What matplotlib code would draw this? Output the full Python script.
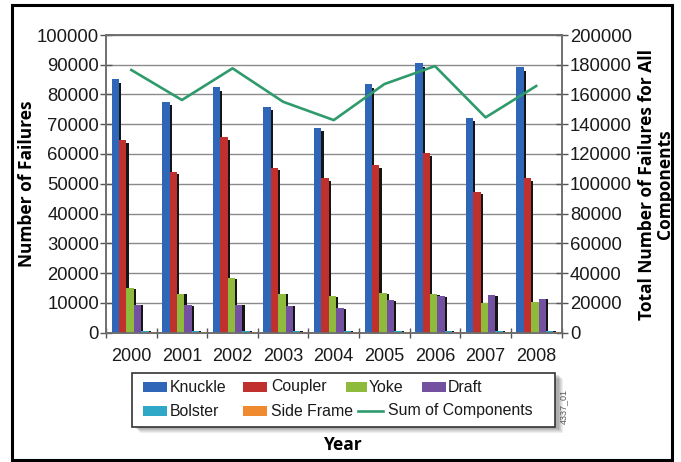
import matplotlib
matplotlib.use("Agg")
import matplotlib.pyplot as plt
from matplotlib.patches import Rectangle
from matplotlib.lines import Line2D
import numpy as np

# ---- data ----
years = ["2000", "2001", "2002", "2003", "2004", "2005", "2006", "2007", "2008"]
knuckle = [85100, 77600, 82400, 75900, 68600, 83400, 90500, 72200, 89300]
coupler = [64700, 54000, 65600, 55400, 51800, 56300, 60200, 47300, 51800]
yoke = [14800, 13100, 18200, 13100, 12200, 13300, 12900, 10000, 10300]
draft = [9400, 9200, 9400, 8900, 8100, 10900, 12200, 12500, 11400]
bolster = [600, 500, 600, 500, 400, 500, 500, 500, 500]
side_frame = [200, 200, 200, 200, 200, 300, 200, 200, 200]
sum_components = [176500, 156300, 177600, 155100, 142800, 167000, 179100, 144600, 165700]

series_names = ["Knuckle", "Coupler", "Yoke", "Draft", "Bolster", "Side Frame"]
series_values = [knuckle, coupler, yoke, draft, bolster, side_frame]
series_colors = ["#2f66b8", "#c0302c", "#8fbb3c", "#7450a0", "#2fa7c6", "#f08a2e"]
line_color = "#2f9a6c"

W, H = 681, 462
fig = plt.figure(figsize=(W / 100, H / 100), dpi=100)


def fx(x):
    return x / W


def fy(y):
    return 1 - y / H


TICK_FONT = "Liberation Sans"
TITLE_FONT = "Open Sans"

# plot area
ax = fig.add_axes([fx(106), fy(332.5), fx(561.5) - fx(106), fy(35) - fy(332.5)])
ax2 = ax.twinx()

n = len(years)
x = np.arange(n)
step = 0.146
start = -0.5 + 0.11

# bars with a dark drop shadow on their right side
for j, (vals, col) in enumerate(zip(series_values, series_colors)):
    left = x + start + j * step
    vals = np.asarray(vals, dtype=float)
    ax.bar(left + 0.3 * step, vals * 0.985, width=step, align="edge",
           color="#151515", linewidth=0, zorder=2)
    ax.bar(left, vals, width=step, align="edge", color=col,
           linewidth=0, zorder=3)

ax.set_xlim(-0.5, n - 0.5)
ax.set_ylim(0, 100000)
ax.set_yticks(np.arange(0, 100001, 10000))
ax.yaxis.grid(True, color="#8a8a8a", linewidth=1.0)
ax.set_axisbelow(True)

# x axis: labels at category centers, tick marks between categories
ax.set_xticks(x)
ax.set_xticklabels(years)
ax.set_xticks(np.arange(-0.5, n, 1.0), minor=True)
ax.tick_params(axis="x", which="major", length=0, pad=11)
ax.tick_params(axis="x", which="minor", length=7, direction="inout",
               color="#555555", width=1)
ax.tick_params(axis="y", length=8, direction="inout", color="#555555",
               width=1, pad=1)

ax2.plot(x, sum_components, color=line_color, linewidth=1.9, zorder=5)
ax2.set_ylim(0, 200000)
ax2.set_yticks(np.arange(0, 200001, 20000))
ax2.tick_params(axis="y", length=8, direction="inout", color="#555555",
                width=1, pad=2)

for a in (ax, ax2):
    for s in a.spines.values():
        s.set_color("#6e6e6e")
        s.set_linewidth(1.2)
    for lab in a.get_yticklabels():
        lab.set_fontfamily(TICK_FONT)
        lab.set_fontsize(13.3)
        lab.set_color("#1a1a1a")
for lab in ax.get_xticklabels():
    lab.set_fontfamily(TICK_FONT)
    lab.set_fontsize(13)
    lab.set_color("#1a1a1a")

# axis titles
fig.text(fx(27), fy(184), "Number of Failures", rotation=90, ha="center",
         va="center", fontsize=12.5, fontweight="bold", family=TITLE_FONT)
fig.text(fx(656), fy(184), "Total Number of Failures for All\nComponents",
         rotation=90, ha="center", va="center", fontsize=12.5,
         fontweight="bold", family=TITLE_FONT, linespacing=1.0,
         multialignment="center")
fig.text(fx(343), fy(445), "Year", ha="center", va="center", fontsize=12.5,
         fontweight="bold", family=TITLE_FONT)

# legend box with a soft shadow
lx0, ly0, lx1, ly1 = 131.5, 373, 555, 427
for k, a in enumerate([0.10, 0.10, 0.12, 0.14, 0.16]):
    off = 6 - k
    fig.add_artist(Rectangle((fx(lx0 + off + 2), fy(ly1 + off)),
                             fx(lx1 - lx0), fy(0) - fy(ly1 - ly0),
                             transform=fig.transFigure, facecolor="#606060",
                             edgecolor="none", alpha=a, zorder=8))
fig.add_artist(Rectangle((fx(lx0), fy(ly1)), fx(lx1 - lx0),
                         fy(0) - fy(ly1 - ly0), transform=fig.transFigure,
                         facecolor="white", edgecolor="#333333",
                         linewidth=1.2, zorder=9))

# legend entries: (label, series index, handle x, handle width, text x, row y)
entries = [
    ("Knuckle", 0, 143, 24, 170, 387),
    ("Coupler", 1, 243, 24, 271, 387),
    ("Yoke", 2, 346, 21, 369, 387),
    ("Draft", 3, 422, 24, 448, 387),
    ("Bolster", 4, 143, 24, 170, 411),
    ("Side Frame", 5, 243, 24, 271, 411),
    ("Sum of Components", None, 358, 25, 388, 411),
]
for label, idx, hx, hw, tx, ry in entries:
    if idx is None:
        fig.add_artist(Line2D([fx(hx), fx(hx + hw)], [fy(ry), fy(ry)],
                              transform=fig.transFigure, color=line_color,
                              linewidth=1.9, zorder=10))
    else:
        fig.add_artist(Rectangle((fx(hx), fy(ry + 5)), fx(hw), fy(0) - fy(10),
                                 transform=fig.transFigure,
                                 facecolor=series_colors[idx],
                                 edgecolor="none", zorder=10))
    fig.text(fx(tx), fy(ry), label, ha="left", va="center", fontsize=11.4,
             family=TICK_FONT, color="#1a1a1a", zorder=10)

fig.text(fx(564), fy(407), "4337_01", rotation=90, ha="center", va="center",
         fontsize=6.5, family=TICK_FONT, color="#555555")

# outer frame
fig.add_artist(Rectangle((fx(12), fy(460)), fx(672 - 12), fy(0) - fy(455),
                         transform=fig.transFigure, facecolor="none",
                         edgecolor="black", linewidth=2.2, zorder=20))

fig.savefig("out.png", dpi=100)
